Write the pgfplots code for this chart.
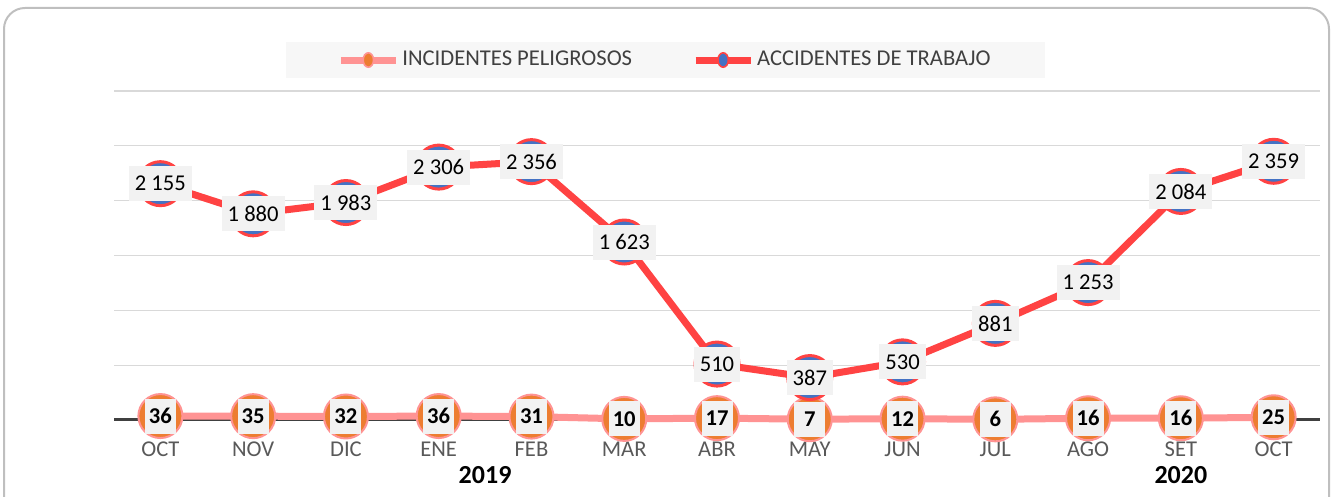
\documentclass[border=0pt]{standalone}
\usepackage{fontspec}
\setmainfont{Carlito}
\usepackage{pgfplots}
\pgfplotsset{compat=1.18}
\definecolor{redline}{HTML}{FF4343}
\definecolor{pinkline}{HTML}{FF9393}
\definecolor{bluefill}{HTML}{4472C4}
\definecolor{orangefill}{HTML}{ED7D31}
\definecolor{labelbg}{HTML}{F2F2F2}
\definecolor{legbg}{HTML}{F7F7F7}
\definecolor{gridc}{HTML}{D9D9D9}
\definecolor{axisc}{HTML}{404040}
\definecolor{tickc}{HTML}{595959}
\definecolor{legtext}{HTML}{404040}
\definecolor{framec}{HTML}{BFBFBF}
\newcommand{\fs}{\fontsize{11.3}{13.5}\selectfont}
\begin{document}
\begin{tikzpicture}
\useasboundingbox (0,0) rectangle (665.5pt,248.5pt);
\draw[framec, line width=1pt, rounded corners=10.5pt] (2pt,-30pt) rectangle (664.5pt,244.5pt);
\begin{axis}[
  at={(57pt,38.5pt)}, anchor=south west,
  scale only axis, width=603pt, height=164.5pt,
  xmin=-0.5, xmax=12.5, ymin=0, ymax=3000,
  clip=false,
  axis line style={draw=none},
  xtick={0,...,12},
  xticklabels={OCT,NOV,DIC,ENE,FEB,MAR,ABR,MAY,JUN,JUL,AGO,SET,OCT},
  ytick={500,1000,...,3000},
  yticklabels={},
  extra y ticks={0}, extra y tick labels={},
  extra y tick style={major grid style={draw=axisc, line width=1.5pt}},
  ymajorgrids, major grid style={draw=gridc, line width=0.6pt},
  major tick length=0pt,
  xticklabel style={font=\fs, text=tickc, anchor=base, yshift=-18.5pt},
  legend style={at={(0.4573,1.0942)}, anchor=center, fill=legbg, draw=none,
    legend columns=2, inner xsep=25.5pt, inner ysep=3pt, font=\fs, text=legtext,
    nodes={inner sep=1.5pt},
    /tikz/every even column/.append style={column sep=28.5pt}},
  nodes near coords={\pgfmathprintnumber[1000 sep={\ },assume math mode=true]{\pgfplotspointmeta}},
  nodes near coords align={center},
]
\addplot[pinkline, line width=3.5pt, mark=*, mark size=11pt,
  mark options={fill=orangefill, draw=pinkline, line width=1pt},
  every node near coord/.append style={anchor=center, fill=labelbg, text=black,
    font=\fs\bfseries, minimum height=17.5pt, minimum width=15.5pt, inner xsep=2pt, inner ysep=0pt},
  legend image code/.code={
    \draw[pinkline, line width=3.5pt] (0pt,0pt) -- (27.5pt,0pt);
    \draw[pinkline, fill=orangefill, line width=0.8pt] (13.75pt,0pt) ellipse (2.6pt and 3.6pt);
  }]
coordinates {(0,36) (1,35) (2,32) (3,36) (4,31) (5,10) (6,17) (7,7) (8,12) (9,6) (10,16) (11,16) (12,25)};
\addlegendentry{INCIDENTES PELIGROSOS}
\addplot[redline, line width=3.5pt, mark=*, mark size=11pt,
  mark options={fill=bluefill, draw=redline, line width=1.5pt},
  every node near coord/.append style={anchor=center, fill=labelbg, text=black,
    font=\fs, minimum height=17.5pt, inner xsep=3pt, inner ysep=0pt},
  legend image code/.code={
    \draw[redline, line width=3.5pt] (0pt,0pt) -- (27.5pt,0pt);
    \draw[redline, fill=bluefill, line width=0.8pt] (13.75pt,0pt) ellipse (2.6pt and 3.6pt);
  }]
coordinates {(0,2155) (1,1880) (2,1983) (3,2306) (4,2356) (5,1623) (6,510) (7,387) (8,530) (9,881) (10,1253) (11,2084) (12,2359)};
\addlegendentry{ACCIDENTES DE TRABAJO}
\node[font=\fontsize{13}{15}\selectfont\bfseries, text=black] at (axis cs:3.5,-501) {2019};
\node[font=\fontsize{13}{15}\selectfont\bfseries, text=black] at (axis cs:11,-501) {2020};
\end{axis}
\end{tikzpicture}
\end{document}
